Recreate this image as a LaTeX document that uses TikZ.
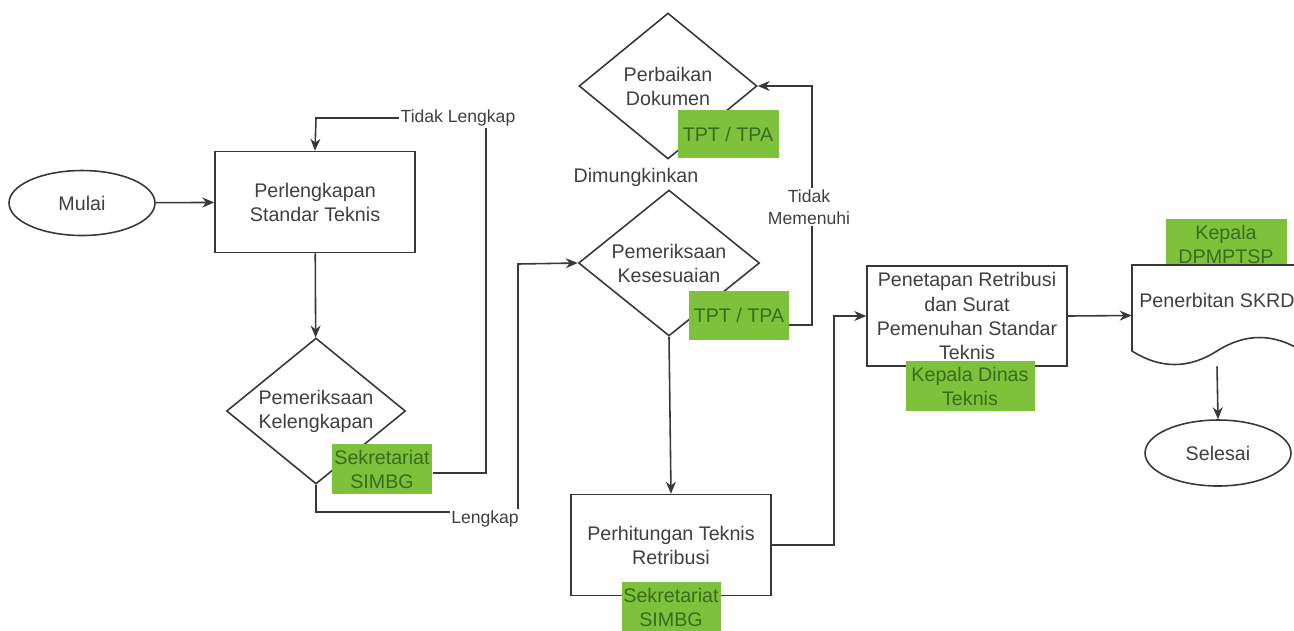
\documentclass[tikz,border=0pt]{standalone}
\usepackage{fontspec}
\setmainfont{Liberation Sans}
\usetikzlibrary{shapes.geometric,arrows.meta}
\definecolor{ln}{HTML}{383838}
\definecolor{tx}{HTML}{404040}
\definecolor{gfill}{HTML}{7DC23A}
\definecolor{gtext}{HTML}{3A6B1E}
\begin{document}
\begin{tikzpicture}[x=0.02cm,y=-0.02cm,
  font=\fontsize{11.2}{13.7}\selectfont, text=tx,
  shp/.style={draw=ln, line width=0.9pt, fill=white, inner sep=0},
  box/.style={shp, rectangle, minimum width=4cm, minimum height=2.02cm},
  oval/.style={shp, ellipse, minimum width=2.92cm, minimum height=1.3cm},
  dia/.style={shp, diamond, minimum width=3.58cm, minimum height=2.92cm},
  txt/.style={align=center, inner sep=0},
  grn/.style={fill=gfill, text=gtext, align=center, inner sep=0, minimum height=1cm},
  conn/.style={draw=ln, line width=0.9pt, -{Stealth[length=0.24cm,width=0.2cm]}},
  elabel/.style={fill=white, inner sep=1pt, font=\fontsize{10}{12.2}\selectfont, align=center}
]
\useasboundingbox (0,0) rectangle (1294,630);

% shapes
\node[oval] (mulai) at (82,203) {Mulai};
\node[box] (leng) at (315,202) {};
\node[txt] at (leng) {Perlengkapan\\Standar Teknis};
\node[dia] (d1) at (316,411) {};
\node[txt] at (d1) {Pemeriksaan\\Kelengkapan};
\node[dia, minimum width=3.56cm] (d2) at (668,86) {};
\node[txt] at (d2) {Perbaikan\\Dokumen};
\node[dia, minimum width=3.62cm] (d3) at (669,263) {};
\node[txt] at (d3) {Pemeriksaan\\Kesesuaian};
\node[box] (hit) at (671,545) {};
\node[txt] at (hit) {Perhitungan Teknis\\Retribusi};
\node[box, minimum height=2cm] (tap) at (967,316) {};
\node[txt] at (tap) {Penetapan Retribusi\\dan Surat\\Pemenuhan Standar\\Teknis};

% label behind document
\node[grn, minimum width=2.42cm] (g5) at (1226,244) {Kepala\\DPMPTSP};

% document shape
\node[inner sep=0, minimum width=3.4cm, minimum height=2.02cm] (doc) at (1217,315.5) {};
\draw[ln, line width=0.9pt, fill=white]
  (1132,265) -- (1302,265) -- (1302,351)
  .. controls (1273.67,333) and (1245.33,333) .. (1217,351)
  .. controls (1188.67,369) and (1160.33,369) .. (1132,351) -- cycle;
\node[txt] (doctext) at (1217,300) {Penerbitan SKRD};

\node[oval, minimum height=1.32cm] (selesai) at (1218,453) {Selesai};

% green labels
\node[grn, minimum width=2.02cm] (g1) at (382,469) {Sekretariat\\SIMBG};
\node[grn, minimum width=2.02cm, minimum height=0.96cm] (g2) at (728,134) {TPT / TPA};
\node[grn, minimum width=2cm, minimum height=0.98cm] (g3) at (739,315) {TPT / TPA};
\node[grn, minimum width=1.98cm, minimum height=1.02cm] (g4) at (671,607) {Sekretariat\\SIMBG};
\node[grn, minimum width=2.58cm] (g6) at (970,386) {Kepala Dinas\\Teknis};

% connectors
\draw[conn] (mulai) -- (leng);
\draw[conn] (leng) -- (d1);
\coordinate (c1a) at (486,473);
\coordinate (c1b) at (486,118);
\coordinate (c1c) at (316,118);
\draw[conn] (g1.east |- c1a) -- (c1a) -- (c1b) -- (c1c) -- (leng.north);
\coordinate (c2a) at (316,512);
\coordinate (c2b) at (518,512);
\coordinate (c2c) at (518,264);
\draw[conn] (d1.south) -- (c2a) -- (c2b) -- (c2c) -- (d3.west);
\draw[conn] (d3.south) -- (hit.north);
\coordinate (c3a) at (834,545);
\coordinate (c3b) at (834,316);
\draw[conn] (hit.east) -- (c3a) -- (c3b) -- (tap.west);
\coordinate (c4a) at (812,325);
\coordinate (c4b) at (812,86);
\draw[conn] (g3.east |- c4a) -- (c4a) -- (c4b) -- (d2.east);
\draw[conn] (tap.east) -- (doc.west);
\draw[conn] (doc.south) -- (selesai.north);

% edge labels
\node[elabel] (lTL) at (458,118) {Tidak Lengkap};
\node[elabel] (lL) at (485,519) {Lengkap};
\node[elabel] (lTM) at (809,207) {Tidak\\Memenuhi};
\node[txt] (lD) at (636,177) {Dimungkinkan};
\end{tikzpicture}
\end{document}
